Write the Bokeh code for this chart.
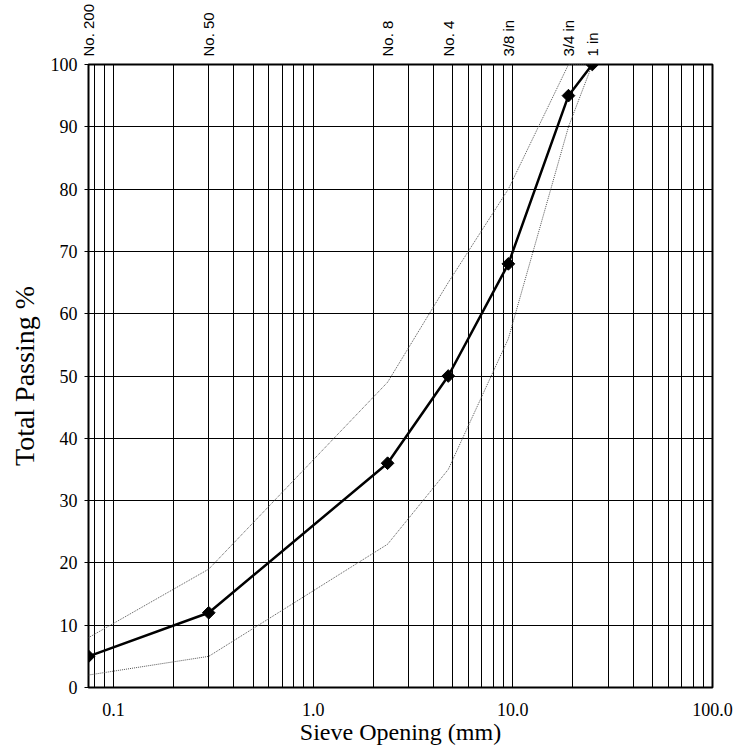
import numpy as np
from bokeh.plotting import figure
from bokeh.models import FixedTicker, LogAxis, Range1d
from bokeh.embed import file_html
from bokeh.resources import INLINE

# ---- data ----
sieve_sizes = [0.075, 0.3, 2.36, 4.75, 9.5, 19.0, 25.0]
sieve_names = ["No. 200", "No. 50", "No. 8", "No. 4", "3/8 in", "3/4 in", "1 in"]
passing = [5, 12, 36, 50, 68, 95, 100]
upper_limit = [8, 19, 49, 65, 80, 100, 100]
lower_limit = [2, 5, 23, 35, 56, 90, 100]
x_major = [0.1, 1.0, 10.0, 100.0]
x_major_labels = ["0.1", "1.0", "10.0", "100.0"]
y_ticks = list(range(0, 101, 10))

# log-grid minor positions (2..9 of each decade, plus 0.08, 0.09)
x_minor = [0.08, 0.09] + [m * 10.0 ** e for e in (-1, 0, 1) for m in range(2, 10)]

SERIF = "Liberation Serif"
SANS = "Liberation Sans"

p = figure(frame_width=624, frame_height=623,
           x_axis_type="log", x_range=Range1d(0.075, 100), y_range=Range1d(0, 100),
           output_backend="svg", toolbar_location=None,
           min_border_left=88, min_border_top=64, min_border_right=26, min_border_bottom=62,
           background_fill_color="white", border_fill_color="white")

# bottom axis
bottom = p.below[0]
xt = FixedTicker(ticks=x_major, minor_ticks=x_minor)
bottom.ticker = xt
bottom.major_label_overrides = dict(zip(x_major, x_major_labels))
bottom.axis_line_color = None
bottom.major_tick_line_color = None
bottom.minor_tick_line_color = None
bottom.major_label_text_font = SERIF
bottom.major_label_text_font_size = "18px"
bottom.major_label_text_color = "black"
bottom.major_label_standoff = 9
bottom.axis_label = "Sieve Opening (mm)"
bottom.axis_label_text_font = SERIF
bottom.axis_label_text_font_size = "24px"
bottom.axis_label_text_font_style = "normal"
bottom.axis_label_text_color = "black"
bottom.axis_label_standoff = 0

# left axis
left = p.left[0]
left.ticker = FixedTicker(ticks=y_ticks, minor_ticks=[])
left.axis_line_color = None
left.major_tick_line_color = "black"
left.major_tick_out = 4
left.major_tick_in = 0
left.minor_tick_line_color = None
left.major_label_text_font = SERIF
left.major_label_text_font_size = "18px"
left.major_label_text_color = "black"
left.major_label_standoff = 7
left.axis_label = "Total Passing %"
left.axis_label_text_font = SERIF
left.axis_label_text_font_size = "28px"
left.axis_label_text_font_style = "normal"
left.axis_label_text_color = "black"
left.axis_label_standoff = 8

# top axis with sieve names
top_axis = LogAxis(ticker=FixedTicker(ticks=sieve_sizes, minor_ticks=[]),
                   major_label_overrides=dict(zip(sieve_sizes, sieve_names)),
                   major_label_orientation="vertical",
                   axis_line_color=None, major_tick_line_color=None,
                   minor_tick_line_color=None,
                   major_label_text_font=SANS, major_label_text_font_size="15px",
                   major_label_text_color="black",
                   major_label_standoff=2)
p.add_layout(top_axis, "above")

# grids
p.xgrid.ticker = xt
p.xgrid.grid_line_color = "black"
p.xgrid.minor_grid_line_color = "black"
p.ygrid.grid_line_color = "black"
p.ygrid.ticker = left.ticker

p.outline_line_color = "black"
p.outline_line_width = 2

# series
p.line(sieve_sizes, upper_limit, line_color="#555555", line_dash="1 1", line_width=1)
p.line(sieve_sizes, lower_limit, line_color="#555555", line_dash="1 1", line_width=1)
p.line(sieve_sizes, passing, line_color="black", line_width=2.5)
p.scatter(sieve_sizes, passing, marker="square", angle=np.pi / 4, size=9,
          fill_color="black", line_color="black")

open("out.html", "w").write(file_html(p, INLINE))
